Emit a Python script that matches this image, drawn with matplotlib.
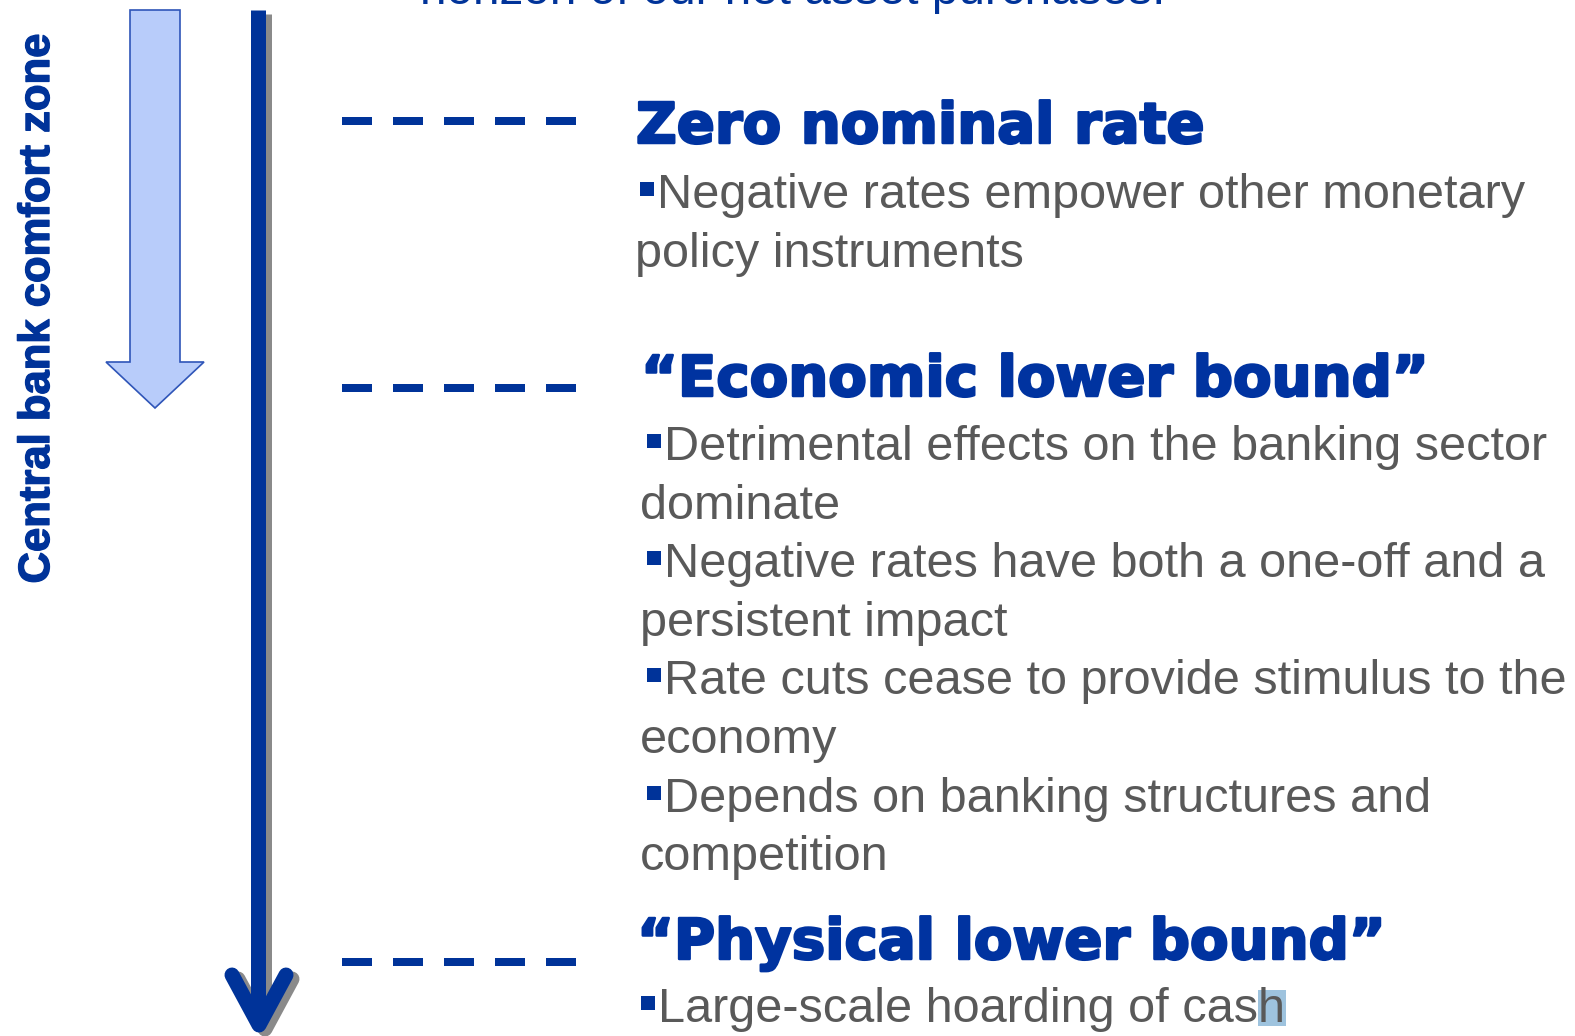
import matplotlib
matplotlib.use("Agg")
import matplotlib.pyplot as plt
from matplotlib.patches import Polygon, Rectangle
from matplotlib.lines import Line2D
import matplotlib.patheffects as pe

# ---------------- content ----------------
top_caption = "horizon of our net asset purchases."
side_label = "Central bank comfort zone"
headings = ["Zero nominal rate", "\u201cEconomic lower bound\u201d", "\u201cPhysical lower bound\u201d"]
bullets_zero = [["Negative rates empower other monetary", "policy instruments"]]
bullets_economic = [
    ["Detrimental effects on the banking sector", "dominate"],
    ["Negative rates have both a one-off and a", "persistent impact"],
    ["Rate cuts cease to provide stimulus to the", "economy"],
    ["Depends on banking structures and", "competition"],
]
bullets_physical = [["Large-scale hoarding of cash"]]
highlight_chars = 1  # last character shown selected

# ---------------- style ----------------
W, H = 1575, 1036
BLUE = "#003399"
HEAD_BLUE = "#0033a0"
GRAY = "#595959"
LIGHT = "#b8ccfa"
LIGHT_EDGE = "#2f55b8"
SHADOW = "#8a8a8a"
PX = 72 / 100  # points per pixel

fig = plt.figure(figsize=(W / 100, H / 100), dpi=100)
ax = fig.add_axes([0, 0, 1, 1])
ax.set_xlim(0, W)
ax.set_ylim(H, 0)
ax.axis("off")

BODY_FS = 48.6 * PX
HEAD_FS = 56.2 * PX
SIDE_FS = 43.6 * PX
LINE_H = 58.6

# top caption (clipped at the top edge, as in the source slide)
ax.text(420, 4, top_caption, fontsize=47.7 * PX, family="Liberation Sans",
        color=BLUE, ha="left", va="baseline")

# side label
ax.text(49, 308, side_label, fontsize=SIDE_FS, family="Liberation Sans",
        fontweight="bold", color=BLUE, rotation=90, rotation_mode="anchor",
        ha="center", va="baseline",
        path_effects=[pe.withStroke(linewidth=1.0, foreground=BLUE)])

# light block arrow
block = Polygon([(130, 10), (180, 10), (180, 362), (204, 362), (155, 408),
                 (106, 362), (130, 362)], closed=True, facecolor=LIGHT,
                edgecolor=LIGHT_EDGE, linewidth=1.2)
ax.add_patch(block)

# main dark arrow with shadow
lw_main = 15 * PX
for dx, dy, col, z in [(6, 4, SHADOW, 2), (0, 0, BLUE, 3)]:
    ax.add_line(Line2D([258 + dx, 258 + dx], [10 + dy, 1022 + dy], color=col,
                       linewidth=lw_main, solid_capstyle="butt", zorder=z))
    ax.add_line(Line2D([232 + dx, 259 + dx, 286 + dx], [975 + dy, 1025 + dy, 975 + dy],
                       color=col, linewidth=lw_main, solid_capstyle="round",
                       solid_joinstyle="round", zorder=z))

# dashed connectors
dash_lw = 8
for yy in [121, 388, 962]:
    ax.add_line(Line2D([342, 576], [yy, yy], color=BLUE, linewidth=dash_lw * PX,
                       dashes=(30 / dash_lw, 21 / dash_lw), dash_capstyle="butt"))

# sections: heading x, heading baseline, items, first bullet baseline, text x, continuation x
sections = [
    (headings[0], 636, 143, bullets_zero, 208, 657, 635),
    (headings[1], 641, 396, bullets_economic, 460, 664, 640),
    (headings[2], 637, 959, bullets_physical, 1022, 658, 640),
]

renderer = fig.canvas.get_renderer()
last_text = None
for head, hx, hy, items, by, tx, cx in sections:
    ax.text(hx, hy, head, fontsize=HEAD_FS, family="DejaVu Sans", fontweight="bold",
            color=HEAD_BLUE, ha="left", va="baseline",
            path_effects=[pe.withStroke(linewidth=1.8, foreground=HEAD_BLUE)])
    y = by
    for item in items:
        ax.add_patch(Rectangle((tx - 17, y - 26), 14, 14, facecolor=BLUE,
                               edgecolor="none"))
        last_text = ax.text(tx, y, item[0], fontsize=BODY_FS, family="Liberation Sans",
                            color=GRAY, ha="left", va="baseline", zorder=5)
        y += LINE_H
        for cont in item[1:]:
            ax.text(cx, y, cont, fontsize=BODY_FS, family="Liberation Sans",
                    color=GRAY, ha="left", va="baseline", zorder=5)
            y += LINE_H

# selection highlight on last character of the final bullet
full = last_text.get_window_extent(renderer)
s = last_text.get_text()
tmp = ax.text(last_text.get_position()[0], last_text.get_position()[1],
              s[:-highlight_chars], fontsize=BODY_FS, family="Liberation Sans",
              ha="left", va="baseline", alpha=0)
pre = tmp.get_window_extent(renderer)
tmp.remove()
base_y = last_text.get_position()[1]
ax.add_patch(Rectangle((pre.x1, base_y - 32), full.x1 - pre.x1 + 1, 36,
                       facecolor="#9ec3de", edgecolor="none", zorder=4))

fig.savefig("out.png", dpi=100, facecolor="white")
